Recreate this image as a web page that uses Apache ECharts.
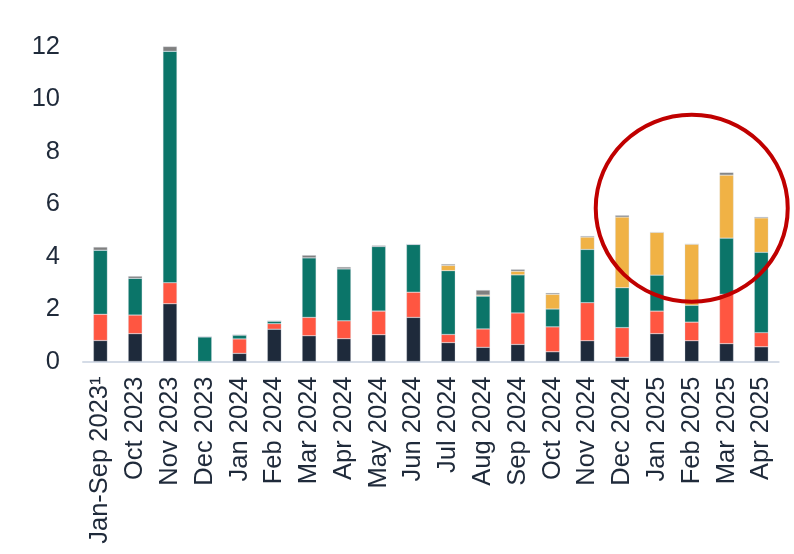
<!DOCTYPE html>
<html>
<head>
<meta charset="utf-8">
<script src="https://cdn.jsdelivr.net/npm/echarts@6/dist/echarts.min.js"></script>
<style>
html,body{margin:0;padding:0;background:#fff;}
#chart{width:794px;height:554px;}
</style>
</head>
<body>
<div id="chart"></div>
<script>
const categories = ["Jan-Sep 2023\u00b9","Oct 2023","Nov 2023","Dec 2023","Jan 2024","Feb 2024","Mar 2024","Apr 2024","May 2024","Jun 2024","Jul 2024","Aug 2024","Sep 2024","Oct 2024","Nov 2024","Dec 2024","Jan 2025","Feb 2025","Mar 2025","Apr 2025"];
const navyValues   = [0.80,1.06,2.20,0,   0.31,1.23,0.98,0.87,1.02,1.68,0.72,0.54,0.65,0.37,0.79,0.16,1.06,0.79,0.68,0.56];
const redValues    = [1.00,0.71,0.80,0,   0.55,0.21,0.70,0.68,0.90,0.96,0.31,0.70,1.20,0.95,1.45,1.13,0.86,0.71,1.88,0.54];
const tealValues   = [2.44,1.40,8.82,0.94,0.15,0.10,2.27,1.98,2.46,1.82,2.43,1.25,1.45,0.68,2.03,1.52,1.37,0.64,2.14,3.06];
const yellowValues = [0,   0,   0,   0,   0,   0,   0,   0,   0,   0,   0.20,0.04,0.14,0.56,0.47,2.69,1.63,2.33,2.40,1.31];
const grayValues   = [0.12,0.08,0.18,0,   0,   0,   0.10,0.07,0.04,0,   0.05,0.19,0.07,0.05,0.04,0.07,0,   0,   0.10,0.04];
const yTicks = [0,2,4,6,8,10,12];
const highlightCategory = "Feb 2025";
const highlightValue = 5.84;

const textColor = '#1f2a3a';
const font = 'Liberation Sans, Arial, sans-serif';
const chart = echarts.init(document.getElementById('chart'), null, {renderer:'canvas'});

function mk(name, data, color){
  return {
    name, type:'bar', stack:'total', data, barWidth:14,
    itemStyle:{color, borderColor:'rgba(210,214,226,0.6)', borderWidth:0.5},
    emphasis:{disabled:true}, animation:false
  };
}

chart.setOption({
  animation:false,
  grid:{left:83, right:15.3, top:46.5, bottom:192.5},
  xAxis:{
    type:'category', data:categories,
    axisLine:{lineStyle:{color:'#d5dce7', width:2}},
    axisTick:{show:false},
    axisLabel:{rotate:90, margin:15, fontSize:25.5, color:textColor, fontFamily:font, interval:0}
  },
  yAxis:{
    type:'value', min:yTicks[0], max:yTicks[yTicks.length-1], interval:2,
    axisLine:{show:false}, axisTick:{show:false}, splitLine:{show:false},
    axisLabel:{fontSize:25.5, color:textColor, fontFamily:font, margin:23}
  },
  series:[
    mk('Navy', navyValues, '#1e2a3b'),
    mk('Red', redValues, '#ff5641'),
    mk('Teal', tealValues, '#0b7569'),
    mk('Yellow', yellowValues, '#f0b245'),
    mk('Gray', grayValues, '#808080')
  ]
});

const c = chart.convertToPixel({xAxisIndex:0, yAxisIndex:0}, [highlightCategory, highlightValue]);
chart.setOption({
  graphic:[{
    type:'ellipse', shape:{cx:c[0], cy:c[1], rx:96, ry:93.5},
    style:{fill:'none', stroke:'#c00000', lineWidth:4}, z:100, silent:true
  }]
});
</script>
</body>
</html>
